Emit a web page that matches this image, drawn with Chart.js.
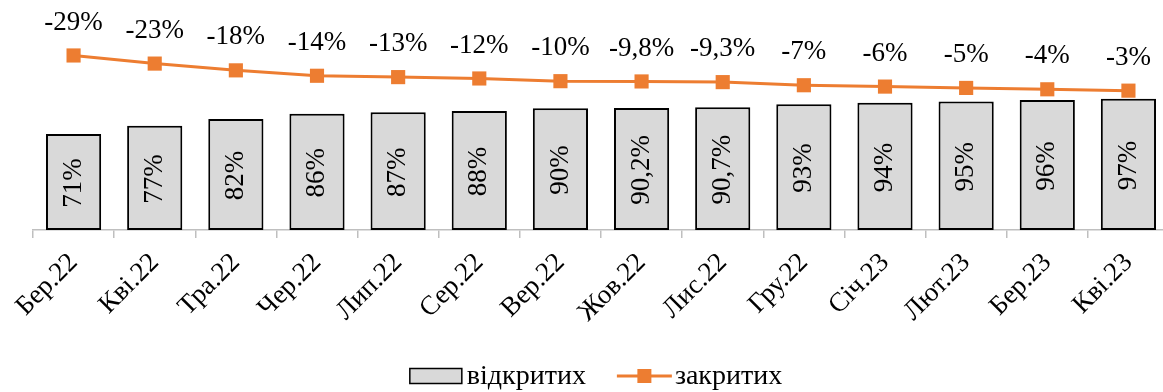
<!DOCTYPE html>
<html lang="uk">
<head>
<meta charset="utf-8">
<script src="https://cdn.jsdelivr.net/npm/chart.js@4"></script>
<style>
  html, body { margin: 0; padding: 0; background: #fff; overflow: hidden; }
  #wrap { width: 1169px; height: 392px; }
</style>
</head>
<body>
<div id="wrap"><canvas id="chart"></canvas></div>
<script>
/* ---- Données ---- */
const mois      = ['Бер.22', 'Кві.22', 'Тра.22', 'Чер.22', 'Лип.22', 'Сер.22', 'Вер.22',
                   'Жов.22', 'Лис.22', 'Гру.22', 'Січ.23', 'Лют.23', 'Бер.23', 'Кві.23'];
const vidkrytykh = [71, 77, 82, 86, 87, 88, 90, 90.2, 90.7, 93, 94, 95, 96, 97];
const zakrytykh  = [-29, -23, -18, -14, -13, -12, -10, -9.8, -9.3, -7, -6, -5, -4, -3];

const FONT  = '"Liberation Serif", "Times New Roman", serif';
const GRIS  = '#d9d9d9';
const ORANGE = '#ed7d31';

const pct = v => String(v).replace('.', ',') + '%';

/* ---- Étiquettes des valeurs ---- */
const etiquettes = {
  id: 'etiquettes',
  afterDatasetsDraw(chart) {
    const ctx = chart.ctx;
    ctx.save();
    ctx.font = '27px ' + FONT;
    ctx.fillStyle = '#000';
    ctx.textAlign = 'center';
    ctx.textBaseline = 'middle';

    chart.getDatasetMeta(0).data.forEach((el, i) => {
      ctx.save();
      ctx.translate(el.x, (el.y + el.base) / 2 + 1);
      ctx.rotate(-Math.PI / 2);
      ctx.fillText(pct(vidkrytykh[i]), 0, 0);
      ctx.restore();
    });

    chart.getDatasetMeta(1).data.forEach((el, i) => {
      ctx.fillText(pct(zakrytykh[i]), el.x, el.y - 33);
    });
    ctx.restore();
  },
};

/* ---- Légende (boîte + ligne avec marqueur) ---- */
const legende = {
  id: 'legende',
  afterDraw(chart) {
    const ctx = chart.ctx;
    const { left, right } = chart.chartArea;
    const y = 376;
    ctx.save();
    ctx.font = '28px ' + FONT;
    ctx.textBaseline = 'middle';
    ctx.textAlign = 'left';

    const t1 = chart.data.datasets[0].label;
    const t2 = chart.data.datasets[1].label;
    const w1 = ctx.measureText(t1).width;
    const w2 = ctx.measureText(t2).width;
    const total = 52 + 5 + w1 + 31 + 55 + 3 + w2;
    let x = (left + right) / 2 - total / 2 - 5;

    ctx.fillStyle = GRIS;
    ctx.strokeStyle = '#000';
    ctx.lineWidth = 1.5;
    ctx.fillRect(x, y - 7.5, 52, 15);
    ctx.strokeRect(x, y - 7.5, 52, 15);
    x += 57;
    ctx.fillStyle = '#000';
    ctx.fillText(t1, x, y + 1);
    x += w1 + 31;

    ctx.strokeStyle = ORANGE;
    ctx.lineWidth = 3;
    ctx.beginPath();
    ctx.moveTo(x, y);
    ctx.lineTo(x + 55, y);
    ctx.stroke();
    ctx.fillStyle = ORANGE;
    ctx.fillRect(x + 27.5 - 7, y - 7, 14, 14);
    x += 58;
    ctx.fillStyle = '#000';
    ctx.fillText(t2, x, y + 1);
    ctx.restore();
  },
};

new Chart(document.getElementById('chart'), {
  type: 'bar',
  data: {
    labels: mois,
    datasets: [
      {
        type: 'bar',
        label: 'відкритих',
        data: vidkrytykh,
        backgroundColor: GRIS,
        borderColor: '#000',
        borderWidth: 2,
        borderSkipped: false,
        barPercentage: 0.68,
        categoryPercentage: 1,
        yAxisID: 'y',
        order: 2,
      },
      {
        type: 'line',
        label: 'закритих',
        data: zakrytykh,
        borderColor: ORANGE,
        backgroundColor: ORANGE,
        borderWidth: 3,
        pointStyle: 'rect',
        pointRadius: 10,
        pointBorderWidth: 0,
        tension: 0,
        yAxisID: 'y2',
        order: 1,
      },
    ],
  },
  options: {
    responsive: true,
    maintainAspectRatio: false,
    animation: false,
    layout: { autoPadding: false, padding: { left: 33, right: 0, top: 0, bottom: 0 } },
    plugins: {
      legend: { display: false },
      tooltip: { enabled: false },
    },
    scales: {
      x: {
        offset: true,
        grid: {
          offset: true,
          drawOnChartArea: false,
          tickLength: 8,
          tickColor: '#bfbfbf',
          lineWidth: 1.5,
        },
        border: { color: '#bfbfbf', width: 1.5 },
        ticks: {
          color: '#000',
          font: { family: FONT, size: 27 },
          minRotation: 45,
          maxRotation: 45,
          padding: 9,
          autoSkip: false,
        },
        afterFit: scale => { scale.height = 162; },
      },
      y: {
        display: false,
        min: 0,
        max: 170,
      },
      y2: {
        display: false,
        reverse: true,
        min: -70,
        max: 100,
      },
    },
  },
  plugins: [etiquettes, legende],
});
</script>
</body>
</html>
